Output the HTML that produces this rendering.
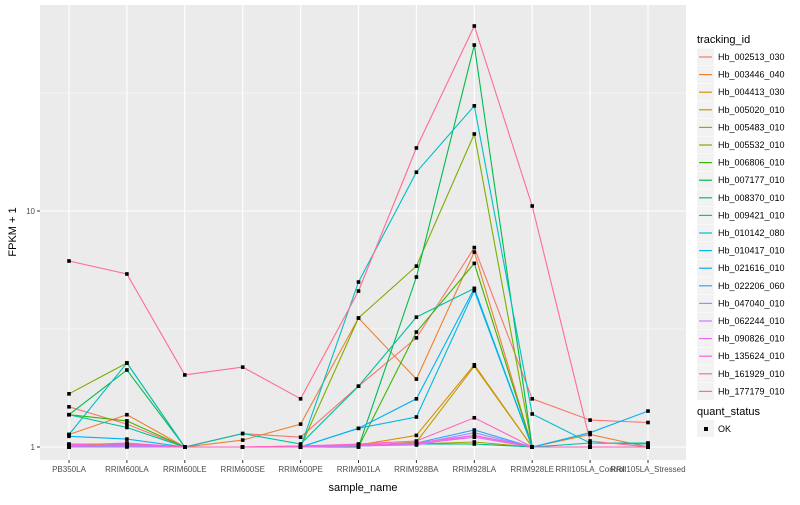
<!DOCTYPE html>
<html><head><meta charset="utf-8"><style>
body{margin:0;background:#fff;font-family:"Liberation Sans",sans-serif}
</style></head><body>
<svg id="chart" width="800" height="500" xmlns="http://www.w3.org/2000/svg" font-family="Liberation Sans, sans-serif">
<rect x="0" y="0" width="800" height="500" fill="#fff"/>
<rect x="40" y="5" width="646" height="455" fill="#EBEBEB"/>
<g id="grid"></g><g id="lines"></g><g id="points"></g><g id="axes"></g><g id="legend"></g>
<text x="363" y="491" font-size="11" text-anchor="middle" fill="#000">sample_name</text>
<text transform="translate(16,232) rotate(-90)" font-size="11" text-anchor="middle" fill="#000">FPKM + 1</text>
</svg>
<script>
const categories=["PB350LA","RRIM600LA","RRIM600LE","RRIM600SE","RRIM600PE","RRIM901LA","RRIM928BA","RRIM928LA","RRIM928LE","RRII105LA_Control","RRII105LA_Stressed"];
const seriesNames=["Hb_002513_030","Hb_003446_040","Hb_004413_030","Hb_005020_010","Hb_005483_010","Hb_005532_010","Hb_006806_010","Hb_007177_010","Hb_008370_010","Hb_009421_010","Hb_010142_080","Hb_010417_010","Hb_021616_010","Hb_022206_060","Hb_047040_010","Hb_062244_010","Hb_090826_010","Hb_135624_010","Hb_161929_010","Hb_177179_010"];
const seriesColors=["#F8766D","#EA8331","#D89000","#C09B00","#A3A500","#7CAE00","#39B600","#00BB4E","#00BF7D","#00C1A3","#00BFC4","#00BAE0","#00B0F6","#35A2FF","#9590FF","#C77CFF","#E76BF3","#FA62DB","#FF62BC","#FF6C91"];
const s00=[1.48,1.25,1,1.14,1.1,1.81,2.9,7.0,1.6,1.3,1.27];
const s01=[1.13,1.37,1,1.07,1.25,3.52,1.94,6.7,1,1.13,1];
const s02=[1.02,1.03,1,1,1,1.02,1.12,2.23,1,1,1];
const s03=[1.01,1.02,1,1,1,1.01,1.05,2.2,1,1,1];
const s04=[1,1.01,1,1,1,1.01,1.03,1.05,1,1,1];
const s05=[1.68,2.27,1,1,1,3.52,5.84,21.2,1,1,1];
const s06=[1.37,1.29,1,1,1,1,3.07,6.0,1,1,1];
const s07=[1.37,2.12,1,1,1,1,5.25,50.5,1,1,1];
const s08=[1,1.01,1,1,1,1.01,1.03,1.03,1,1,1];
const s09=[1.37,1.21,1,1.14,1.03,1.81,3.55,4.7,1,1.04,1.04];
const s10=[1.13,2.27,1,1,1,5.0,14.6,27.9,1.38,1.04,1.03];
const s11=[1.01,1.02,1,1,1,1.2,1.34,4.6,1,1,1];
const s12=[1.11,1.08,1,1,1,1.2,1.6,4.7,1,1.15,1.42];
const s13=[1,1.01,1,1,1,1.02,1.04,1.18,1,1,1];
const s14=[1,1.01,1,1,1,1.01,1.03,1.15,1,1,1];
const s15=[1,1,1,1,1,1.01,1.02,1.12,1,1,1];
const s16=[1.01,1.02,1,1,1,1.02,1.03,1.1,1,1,1];
const s17=[1.02,1.04,1,1,1.01,1.02,1.04,1.12,1,1,1];
const s18=[1.03,1.03,1,1,1.01,1.03,1.06,1.33,1,1,1];
const s19=[6.14,5.41,2.02,2.18,1.6,4.58,18.5,60.8,10.5,1.06,1];
const seriesValues=[s00,s01,s02,s03,s04,s05,s06,s07,s08,s09,s10,s11,s12,s13,s14,s15,s16,s17,s18,s19];
const yTicks=[1,10];
const yTickLabels=["1","10"];
const yMinor=[3.1623,31.623];

const NS="http://www.w3.org/2000/svg";
function mk(tag,attrs,parent){const e=document.createElementNS(NS,tag);for(const k in attrs)e.setAttribute(k,attrs[k]);parent.appendChild(e);return e;}
const xScale=i=>69+i*57.9;
const yScale=v=>447-236*Math.log10(v);
const grid=document.getElementById('grid'),lines=document.getElementById('lines'),pts=document.getElementById('points'),axes=document.getElementById('axes'),legend=document.getElementById('legend');
yMinor.forEach(v=>{const l=mk('line',{x1:40,x2:686,y1:yScale(v),y2:yScale(v),stroke:'#fff','stroke-width':0.6},grid);

});
yTicks.forEach((v,i)=>{const l=mk('line',{x1:40,x2:686,y1:yScale(v),y2:yScale(v),stroke:'#fff','stroke-width':1.1},grid);


mk('line',{x1:37,x2:40,y1:yScale(v),y2:yScale(v),stroke:'#333','stroke-width':1},axes);
const t=mk('text',{x:35,y:yScale(v)+3,'font-size':8,'text-anchor':'end',fill:'#4D4D4D'},axes);t.textContent=yTickLabels[i];

});
categories.forEach((c,i)=>{const x=xScale(i);
const l=mk('line',{x1:x,x2:x,y1:5,y2:460,stroke:'#fff','stroke-width':1.1},grid);


mk('line',{x1:x,x2:x,y1:460,y2:463,stroke:'#333','stroke-width':1},axes);
const t=mk('text',{x:x,y:472,'font-size':8,'text-anchor':'middle',fill:'#4D4D4D'},axes);t.textContent=c;

});
seriesValues.forEach((vals,si)=>{
const d=vals.map((v,i)=>(i?'L':'M')+xScale(i).toFixed(1)+','+yScale(v).toFixed(1)).join(' ');
const p=mk('path',{d:d,fill:'none',stroke:seriesColors[si],'stroke-width':1.1},lines);


vals.forEach((v,i)=>{const r=mk('rect',{x:xScale(i)-1.8,y:yScale(v)-1.8,width:3.6,height:3.6,fill:'#000'},pts);

});
});
const lt=mk('text',{x:697,y:43,'font-size':11,fill:'#000'},legend);lt.textContent='tracking_id';


seriesNames.forEach((n,i)=>{const cy=57+i*17.6;
const g=mk('g',{},legend);


mk('rect',{x:697,y:cy-8.5,width:17,height:17,fill:'#F2F2F2'},g);
mk('line',{x1:699,x2:712,y1:cy,y2:cy,stroke:seriesColors[i],'stroke-width':1.2},g);
const t=mk('text',{x:718,y:cy+3,'font-size':9,fill:'#000'},g);t.textContent=n;});
const qt=mk('text',{x:697,y:415,'font-size':11,fill:'#000'},legend);qt.textContent='quant_status';


const qg=mk('g',{},legend);


mk('rect',{x:697,y:420,width:17,height:17,fill:'#F2F2F2'},qg);
mk('rect',{x:704,y:427,width:4,height:4,fill:'#000'},qg);
const ok=mk('text',{x:718,y:432,'font-size':9,fill:'#000'},qg);ok.textContent='OK';
</script>
</body></html>
